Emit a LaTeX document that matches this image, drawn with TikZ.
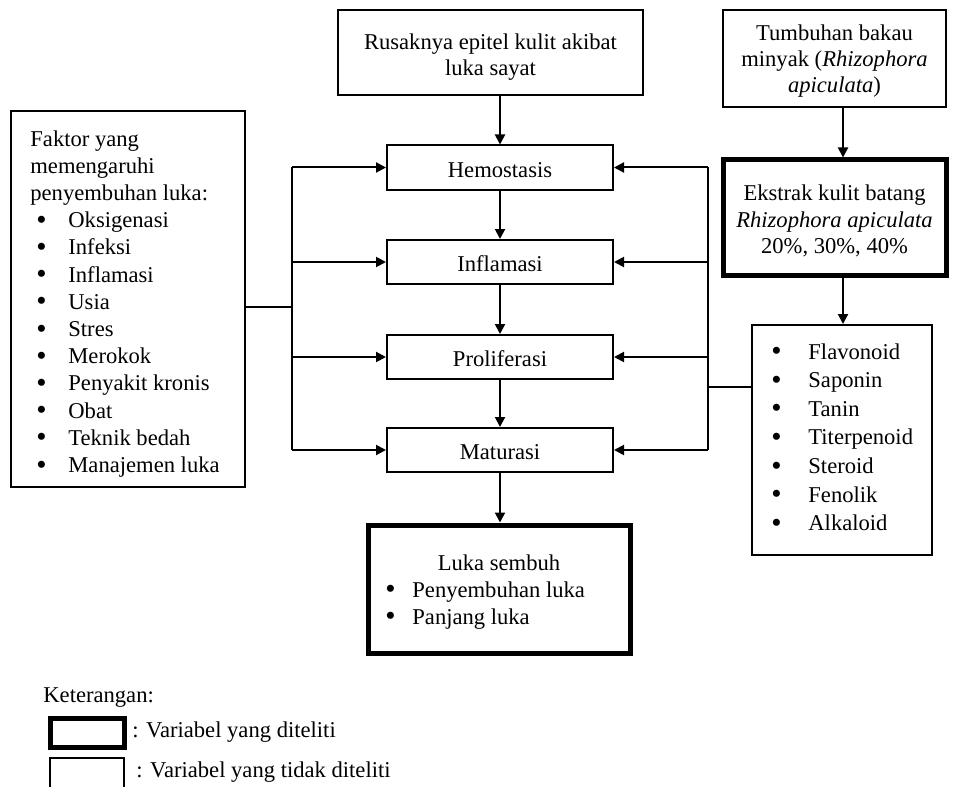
\documentclass[tikz,border=0pt]{standalone}
\usepackage{fontspec}
\usepackage{graphicx}
\setmainfont{Liberation Serif}
\usetikzlibrary{arrows.meta}
\newcommand\bigbul{\smash{\raisebox{-0.8pt}{\scalebox{1.3}{\textbullet}}}}
\newcommand\lbul{\hspace*{3pt}\makebox[16pt][l]{\bigbul}}
\newcommand\cbul{\makebox[18.5pt][l]{\bigbul}}
\newcommand\kbul{\makebox[13.5pt][l]{\bigbul}}
\newcommand\hstrut[1]{\rule{0pt}{#1}}
\begin{document}
\begin{tikzpicture}[x=0.5pt,y=-0.5pt,
 every node/.style={font=\fontsize{11.3}{13.2}\selectfont},
 box/.style={draw,line width=1pt,inner sep=0pt,align=center},
 thickbox/.style={box,line width=2.5pt},
 phase/.style={box,minimum width=113pt,minimum height=22pt,text height=12pt,text depth=2.5pt},
 txt/.style={inner sep=0pt,anchor=north west,align=left},
 arr/.style={line width=1pt,-{Triangle[length=5pt,width=5pt]}},
 ln/.style={line width=1pt}]
\useasboundingbox (0,0) rectangle (956,786);

% top box
\node[box,minimum width=152.5pt,minimum height=42.5pt] (rusak) at (490.5,52.5)
  {\hstrut{12.5pt}Rusaknya epitel kulit akibat\\ luka sayat};

% phases
\node[phase] (hemo) at (500,167.5) {Hemostasis};
\node[phase] (infl) at (500,262) {Inflamasi};
\node[phase] (prol) at (500,357) {Proliferasi};
\node[phase] (matu) at (500,450) {Maturasi};

% left factors box
\node[box,minimum width=117pt,minimum height=188pt] (left) at (128,299) {};
\node[txt,font=\fontsize{11.3}{13.6}\selectfont] (lefttxt) at (30,130)
  {Faktor yang\\ memengaruhi\\ penyembuhan luka:\\
   \lbul Oksigenasi\\ \lbul Infeksi\\ \lbul Inflamasi\\ \lbul Usia\\ \lbul Stres\\
   \lbul Merokok\\ \lbul Penyakit kronis\\ \lbul Obat\\ \lbul Teknik bedah\\ \lbul Manajemen luka};

% right column
\node[box,minimum width=111.5pt,minimum height=48.5pt] (tumb) at (834.5,58.5)
  {\hstrut{10.5pt}Tumbuhan bakau\\ minyak (\textit{Rhizophora}\\ \textit{apiculata})};
\node[thickbox,minimum width=111.5pt,minimum height=57.5pt] (ekstrak) at (834.5,217.5)
  {\hstrut{11.5pt}Ekstrak kulit batang\\ \textit{Rhizophora apiculata}\\ 20\%, 30\%, 40\%};
\node[box,minimum width=90pt,minimum height=115pt] (comp) at (842,440) {};
\node[txt,font=\fontsize{11.3}{14.3}\selectfont] (comptxt) at (771,343)
  {\cbul Flavonoid\\ \cbul Saponin\\ \cbul Tanin\\ \cbul Titerpenoid\\ \cbul Steroid\\
   \cbul Fenolik\\ \cbul Alkaloid};

% outcome
\node[thickbox,minimum width=131pt,minimum height=64pt] (luka) at (499,589) {};
\node[inner sep=0pt,anchor=base] (lukat) at (499,570) {Luka sembuh};
\node[txt,font=\fontsize{11.3}{13.6}\selectfont] (lukatxt) at (385,581)
  {\kbul Penyembuhan luka\\ \kbul Panjang luka};

% helper coordinates
\coordinate (lj) at (292,307);
\coordinate (rj) at (708,387);
\coordinate (ax) at (843,0);

% vertical chain
\draw[arr] (rusak.south -| hemo.north) -- (hemo.north);
\draw[arr] (hemo.south) -- (infl.north);
\draw[arr] (infl.south) -- (prol.north);
\draw[arr] (prol.south) -- (matu.north);
\draw[arr] (matu.south) -- (matu.south |- luka.north);

% left bus
\draw[ln] (lj -| left.east) -- (lj);
\draw[ln] (hemo.west -| lj) -- (matu.west -| lj);
\draw[arr] (hemo.west -| lj) -- (hemo.west);
\draw[arr] (infl.west -| lj) -- (infl.west);
\draw[arr] (prol.west -| lj) -- (prol.west);
\draw[arr] (matu.west -| lj) -- (matu.west);

% right bus
\draw[ln] (rj -| comp.west) -- (rj);
\draw[ln] (hemo.east -| rj) -- (matu.east -| rj);
\draw[arr] (hemo.east -| rj) -- (hemo.east);
\draw[arr] (infl.east -| rj) -- (infl.east);
\draw[arr] (prol.east -| rj) -- (prol.east);
\draw[arr] (matu.east -| rj) -- (matu.east);

% right column arrows
\draw[arr] (tumb.south -| ax) -- (ekstrak.north -| ax);
\draw[arr] (ekstrak.south -| ax) -- (comp.north -| ax);

% legend
\node[anchor=base west,inner sep=0pt] (ket) at (43,702) {Keterangan:};
\node[thickbox,minimum width=37pt,minimum height=14.5pt] (leg1) at (87,732.5) {};
\node[anchor=west,inner sep=0pt] (leg1t) at (132,732) {: Variabel yang diteliti};
\draw[ln] (50,790) -- (50,758) -- (124,758) -- (124,790);
\node[anchor=west,inner sep=0pt] (leg2t) at (136,772) {: Variabel yang tidak diteliti};
\end{tikzpicture}
\end{document}
